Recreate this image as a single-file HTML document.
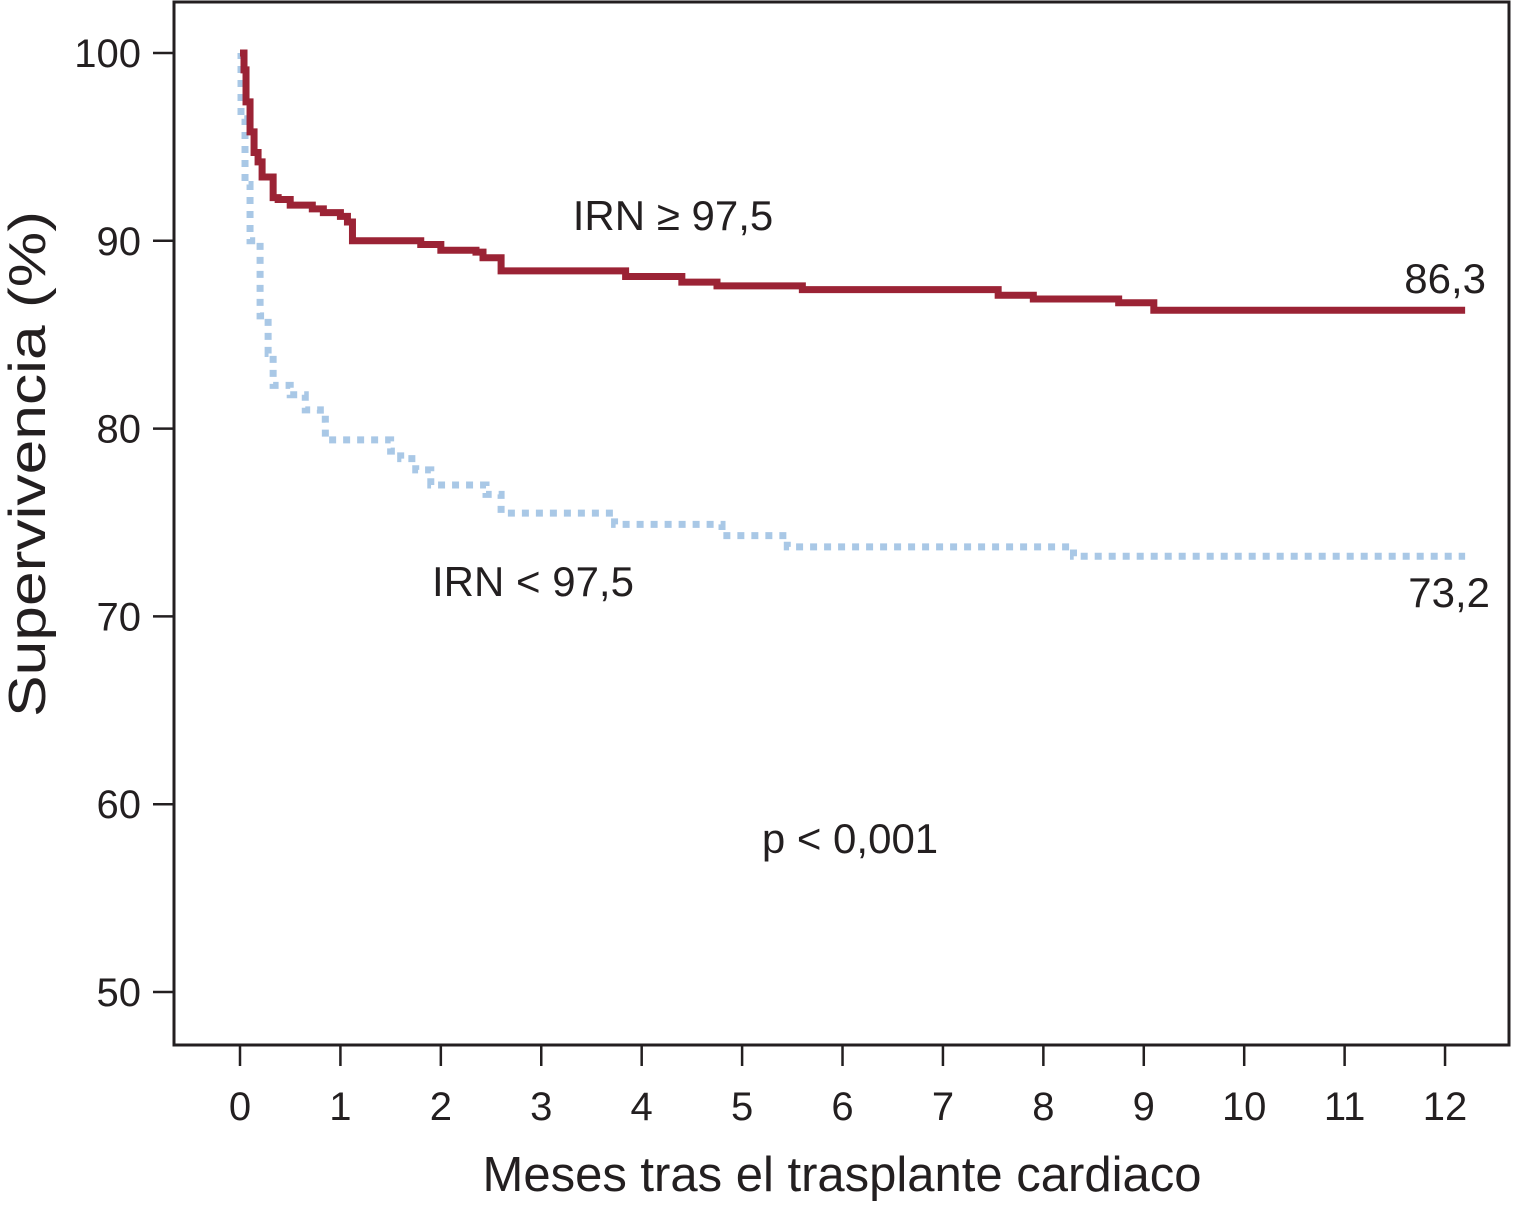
<!DOCTYPE html>
<html><head><meta charset="utf-8"><style>
body{margin:0;background:#fff}
svg{display:block;font-family:"Liberation Sans",Arial,sans-serif}
</style></head><body>
<svg id="chart" width="1513" height="1207" viewBox="0 0 1513 1207">
<rect x="174" y="2" width="1335" height="1043" fill="none" stroke="#231f20" stroke-width="3"/>
<g id="axes"></g>
<g id="series"></g>
<text x="673" y="230" font-size="42" text-anchor="middle" fill="#231f20">IRN ≥ 97,5</text>
<text x="533" y="596" font-size="42" text-anchor="middle" fill="#231f20">IRN &lt; 97,5</text>
<text x="1486" y="293" font-size="42" text-anchor="end" fill="#231f20">86,3</text>
<text x="1490" y="607" font-size="42" text-anchor="end" fill="#231f20">73,2</text>
<text x="850" y="853" font-size="42" text-anchor="middle" fill="#231f20">p &lt; 0,001</text>
<text x="842" y="1191" font-size="49" text-anchor="middle" fill="#231f20">Meses tras el trasplante cardiaco</text>
<text transform="translate(45,464) rotate(-90)" font-size="52" text-anchor="middle" textLength="506" lengthAdjust="spacingAndGlyphs" fill="#231f20">Supervivencia (%)</text>
</svg>
<script>
const xTicks=[0,1,2,3,4,5,6,7,8,9,10,11,12];
const yTicks=[50,60,70,80,90,100];
const highTimes=[0,0.04,0.06,0.1,0.14,0.18,0.22,0.33,0.38,0.5,0.72,0.83,1.0,1.07,1.12,1.8,2.0,2.35,2.42,2.6,3.84,4.4,4.75,5.6,7.55,7.9,8.75,9.1,12.2];
const highSurv=[100,99.1,97.4,95.8,94.7,94.2,93.4,92.3,92.2,91.9,91.7,91.5,91.3,91.0,90.0,89.8,89.5,89.4,89.1,88.4,88.1,87.8,87.6,87.4,87.1,86.9,86.7,86.3,86.3];
const lowTimes=[0,0.01,0.05,0.1,0.2,0.28,0.33,0.5,0.65,0.8,0.85,1.5,1.6,1.75,1.9,2.45,2.6,3.73,4.8,5.45,8.3,12.2];
const lowSurv=[100,96.5,93,90,86,84,82.3,81.8,81,80.5,79.4,78.8,78.4,77.8,77.0,76.5,75.5,74.9,74.3,73.7,73.2,73.2];
const X=t=>240+t*100.42;
const Y=v=>53+(100-v)*18.78;
const NS="http://www.w3.org/2000/svg";
const axes=document.getElementById('axes'),series=document.getElementById('series');
function mk(tag,attrs,parent){const e=document.createElementNS(NS,tag);for(const k in attrs)e.setAttribute(k,attrs[k]);parent.appendChild(e);return e;}
xTicks.forEach(t=>{
  const l=mk('line',{x1:X(t),x2:X(t),y1:1045,y2:1066,stroke:'#231f20','stroke-width':2.5},axes);
  
  
  const tx=mk('text',{x:X(t),y:1120,'font-size':40,'text-anchor':'middle',fill:'#231f20'},axes);
  tx.textContent=t;
  
  
});
yTicks.forEach(v=>{
  const l=mk('line',{x1:153,x2:174,y1:Y(v),y2:Y(v),stroke:'#231f20','stroke-width':2.5},axes);
  
  
  const tx=mk('text',{x:141,y:Y(v)+14,'font-size':40,'text-anchor':'end',fill:'#231f20'},axes);
  tx.textContent=v;
  
  
});
function stepPath(ts,vs){let d='M'+X(ts[0])+','+Y(vs[0]);for(let i=1;i<ts.length;i++){d+=' H'+X(ts[i])+' V'+Y(vs[i]);}return d;}
const low=mk('path',{d:stepPath(lowTimes,lowSurv),fill:'none',stroke:'#a9c8e6','stroke-width':7,'stroke-dasharray':'7 7'},series);


const high=mk('path',{d:stepPath(highTimes,highSurv),fill:'none',stroke:'#9b2335','stroke-width':7},series);


</script>
</body></html>
